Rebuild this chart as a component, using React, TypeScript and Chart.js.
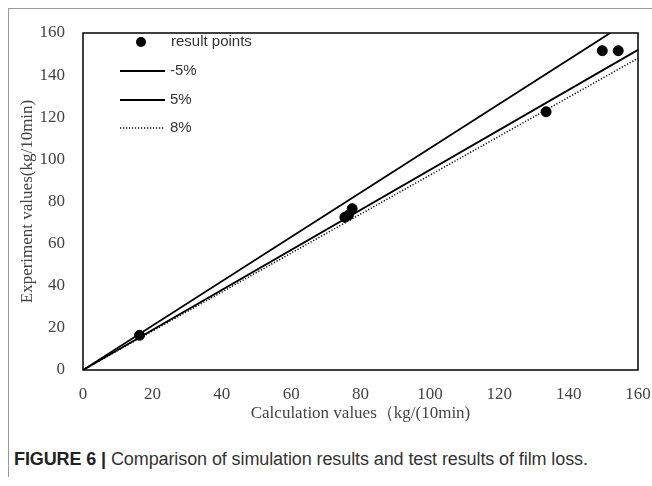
import React, { useEffect, useRef } from "react";
import { Chart, registerables } from "chart.js";

Chart.register(...registerables);

// ---- data ----
const pointX = [16.3, 75.5, 76.5, 77.6, 133.5, 149.7, 154.3];
const pointY = [16.5, 72.5, 73.5, 76.6, 122.6, 151.6, 151.6];
const minus5X = [0, 152];
const minus5Y = [0, 160];
const plus5X = [0, 160];
const plus5Y = [0, 152];
const eightX = [0, 160];
const eightY = [0, 148];
const axisMin = 0;
const axisMax = 160;
const tickStep = 20;
const legendLabels = ["result points", "-5%", "5%", "8%"];
const xTitle = "Calculation values（kg/(10min)";
const yTitle = "Experiment values(kg/10min)";

const toXY = (xs: number[], ys: number[]) => xs.map((x, i) => ({ x, y: ys[i] }));

const framePlugin = {
  id: "frame",
  afterDatasetsDraw(chart: any) {
    const { ctx, chartArea } = chart;
    ctx.save();
    ctx.strokeStyle = "#000";
    ctx.lineWidth = 1.5;
    ctx.strokeRect(chartArea.left, chartArea.top, chartArea.right - chartArea.left, chartArea.bottom - chartArea.top);
    ctx.restore();
  },
};

const legendPlugin = {
  id: "insideLegend",
  afterDraw(chart: any) {
    const { ctx, chartArea } = chart;
    const l = chartArea.left;
    const t = chartArea.top;
    const rows = [9, 38, 67, 95];
    ctx.save();
    ctx.font = "15px 'Liberation Sans', Arial, sans-serif";
    ctx.fillStyle = "#333";
    ctx.textBaseline = "middle";
    chart.data.datasets.forEach((ds: any, i: number) => {
      const y = t + rows[i];
      if (i === 0) {
        ctx.beginPath();
        ctx.fillStyle = "#000";
        ctx.arc(l + 58, y, 5, 0, Math.PI * 2);
        ctx.fill();
        ctx.fillStyle = "#333";
        ctx.fillText(ds.label, l + 88, y);
      } else {
        ctx.beginPath();
        ctx.strokeStyle = "#000";
        ctx.lineWidth = ds.borderWidth;
        ctx.setLineDash(ds.borderDash || []);
        ctx.moveTo(l + 37, y);
        ctx.lineTo(l + 82, y);
        ctx.stroke();
        ctx.setLineDash([]);
        ctx.fillText(ds.label, l + 87, y);
      }
    });
    ctx.restore();
  },
};

function ChartView() {
  const ref = useRef<HTMLCanvasElement>(null);
  useEffect(() => {
    if (!ref.current) return;
    const tickFont = { family: "'Liberation Serif', 'Times New Roman', serif", size: 17 };
    const titleFont = { family: "'Liberation Serif', 'Times New Roman', serif", size: 17 };
    const chart = new Chart(ref.current, {
      type: "scatter",
      data: {
        datasets: [
          {
            label: legendLabels[0],
            data: toXY(pointX, pointY),
            backgroundColor: "#000",
            borderColor: "#000",
            pointRadius: 5,
            pointHoverRadius: 5,
            showLine: false,
            order: 0,
          },
          {
            label: legendLabels[1],
            data: toXY(minus5X, minus5Y),
            showLine: true,
            borderColor: "#000",
            borderWidth: 1.8,
            pointRadius: 0,
            order: 1,
          },
          {
            label: legendLabels[2],
            data: toXY(plus5X, plus5Y),
            showLine: true,
            borderColor: "#000",
            borderWidth: 1.8,
            pointRadius: 0,
            order: 2,
          },
          {
            label: legendLabels[3],
            data: toXY(eightX, eightY),
            showLine: true,
            borderColor: "#000",
            borderWidth: 1.5,
            borderDash: [1.2, 1.8],
            pointRadius: 0,
            order: 3,
          },
        ],
      },
      options: {
        animation: false,
        responsive: false,
        devicePixelRatio: 1,
        layout: { padding: { top: 24, right: 14, bottom: 0, left: 0 } },
        plugins: { legend: { display: false }, tooltip: { enabled: false } },
        scales: {
          x: {
            type: "linear",
            min: axisMin,
            max: axisMax,
            ticks: { stepSize: tickStep, color: "#444", font: tickFont, padding: 14, maxRotation: 0 },
            grid: { display: false, drawTicks: false },
            border: { display: false },
            title: { display: true, text: xTitle, color: "#444", font: titleFont, padding: { top: 0, bottom: 0 } },
            afterFit: (s: any) => {
              s.height = 54;
              s.paddingLeft = 0;
              s.paddingRight = 0;
            },
          },
          y: {
            type: "linear",
            min: axisMin,
            max: axisMax,
            ticks: { stepSize: tickStep, color: "#444", font: tickFont, padding: 18 },
            grid: { display: false, drawTicks: false },
            border: { display: false },
            title: { display: true, text: yTitle, color: "#444", font: titleFont, padding: { top: 8, bottom: 0 } },
            afterFit: (s: any) => {
              s.width = 74;
              s.paddingTop = 0;
              s.paddingBottom = 0;
            },
          },
        },
      },
      plugins: [framePlugin, legendPlugin],
    });
    return () => chart.destroy();
  }, []);
  return <canvas ref={ref} width={643} height={415} style={{ display: "block", width: 643, height: 415 }} />;
}

export default function App() {
  return (
    <div style={{ height: 470 }}>
      <div
        style={{
          position: "fixed",
          left: 8,
          top: 8,
          width: 643,
          height: 468,
          borderTop: "1px solid #999",
          borderLeft: "1px solid #999",
          background: "#fff",
          overflow: "hidden",
        }}
      >
        <ChartView />
        <div
          style={{
            position: "absolute",
            left: 5,
            top: 440,
            fontFamily: "'Liberation Sans', Arial, sans-serif",
            fontSize: 18,
            lineHeight: "20px",
            color: "#333",
            whiteSpace: "nowrap",
            letterSpacing: "-0.1px",
          }}
        >
          <span style={{ fontWeight: "bold", color: "#222" }}>FIGURE 6 | </span>
          Comparison of simulation results and test results of film loss.
        </div>
      </div>
    </div>
  );
}
